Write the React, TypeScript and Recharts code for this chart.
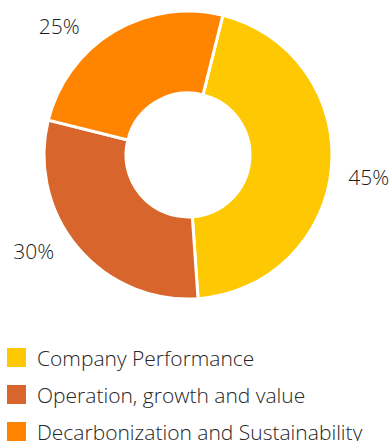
import React from 'react';
import { PieChart, Pie, Cell } from 'recharts';

const categories = ['Company Performance', 'Operation, growth and value', 'Decarbonization and Sustainability'];
const shares = [45, 30, 25];
const colors = ['#FEC802', '#D8662C', '#FF8400'];

// labels sit a bit off the slice middle, nudged per slice
const labelAngleShift = [-2, -8, 14];
const labelGap = 38;

const data = categories.map((name, i) => ({ name, value: shares[i] }));

const RADIAN = Math.PI / 180;

const renderLabel = (props: any) => {
  const { cx, cy, midAngle, outerRadius, index, value } = props;
  const angle = (midAngle + labelAngleShift[index]) * RADIAN;
  const r = outerRadius + labelGap;
  const x = cx + r * Math.cos(angle);
  const y = cy - r * Math.sin(angle);
  return (
    <text
      x={x}
      y={y}
      textAnchor="middle"
      dominantBaseline="central"
      fill="#1a1a1a"
      fontSize={21}
      fontFamily="'Open Sans', sans-serif"
      fontWeight={300}
    >
      {`${value}%`}
    </text>
  );
};

const ChartLegend = () => (
  <div style={{ position: 'absolute', left: 7, top: 339, fontFamily: "'Open Sans', sans-serif" }}>
    {categories.map((name, i) => (
      <div key={name} style={{ display: 'flex', alignItems: 'center', height: 37 }}>
        <span style={{ width: 19, height: 19, background: colors[i], marginRight: 11, flex: 'none' }} />
        <span style={{ fontSize: 21, lineHeight: '21px', color: '#262626', fontWeight: 300, whiteSpace: 'nowrap', marginTop: 2 }}>
          {name}
        </span>
      </div>
    ))}
  </div>
);

export default function App() {
  return (
    <div style={{ position: 'absolute', left: 0, top: 0, width: 390, height: 441, background: '#fff', overflow: 'hidden' }}>
      <PieChart width={390} height={330} margin={{ top: 0, right: 0, bottom: 0, left: 0 }}>
        <Pie
          data={data}
          dataKey="value"
          nameKey="name"
          cx={188}
          cy={155}
          innerRadius={62}
          outerRadius={144}
          startAngle={76}
          endAngle={-284}
          stroke="#fff"
          strokeWidth={3}
          label={renderLabel}
          labelLine={false}
          isAnimationActive={false}
        >
          {data.map((d, i) => (
            <Cell key={d.name} fill={colors[i]} />
          ))}
        </Pie>
      </PieChart>
      <ChartLegend />
    </div>
  );
}
